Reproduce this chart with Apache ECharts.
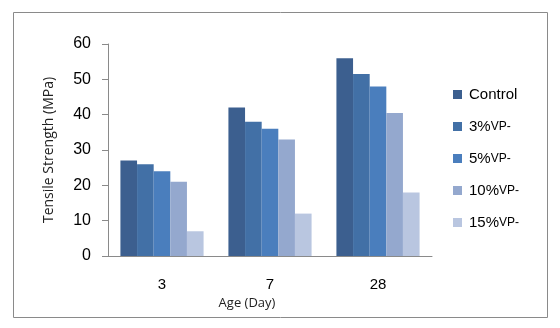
<!DOCTYPE html>
<html>
<head>
<meta charset="utf-8">
<script src="https://cdn.jsdelivr.net/npm/echarts@6/dist/echarts.min.js"></script>
<style>
  html, body { margin: 0; padding: 0; background: #fff; }
  #chart { width: 560px; height: 328px; }
</style>
</head>
<body>
<div id="chart"></div>
<script>
const ages = ["3", "7", "28"];
const seriesNames = ["Control", "3%VP-", "5%VP-", "10%VP-", "15%VP-"];
const control = [27, 42, 56];
const vp3 = [26, 38, 51.5];
const vp5 = [24, 36, 48];
const vp10 = [21, 33, 40.5];
const vp15 = [7, 12, 18];
const colors = ["#3C5F8F", "#4270A6", "#4A7EBD", "#94A8CE", "#B9C6E0"];

const chart = echarts.init(document.getElementById("chart"));
const values = [control, vp3, vp5, vp10, vp15];

chart.setOption({
  animation: false,
  graphic: [
    {
      type: "rect",
      shape: { x: 13.5, y: 12.5, width: 534, height: 305 },
      style: { fill: "none", stroke: "#8a8a8a", lineWidth: 1 },
      silent: true,
    },
  ],
  grid: { left: 108, right: 128, top: 44, bottom: 72 },
  legend: {
    orient: "vertical",
    left: 453,
    top: 87,
    padding: 0,
    itemWidth: 9,
    itemHeight: 9,
    itemGap: 17,
    icon: "rect",
    data: seriesNames,
    formatter: (name) => {
      if (name === "Control") return name;
      const i = name.indexOf("VP");
      return name.slice(0, i) + "{s|" + name.slice(i) + "}";
    },
    textStyle: {
      fontFamily: "Liberation Sans",
      fontSize: 15,
      color: "#000",
      padding: [0, 0, 0, 2],
      rich: { s: { fontFamily: "Liberation Sans", fontSize: 12, color: "#000" } },
    },
  },
  xAxis: {
    type: "category",
    data: ages,
    name: "Age (Day)",
    nameLocation: "middle",
    nameGap: 40,
    nameTextStyle: { fontFamily: "Open Sans", fontSize: 13, color: "#222", padding: [0, 0, 0, -46] },
    axisLine: { lineStyle: { color: "#8a8a8a" } },
    axisTick: { show: false },
    axisLabel: { margin: 21, fontFamily: "Liberation Sans", fontSize: 15, color: "#000" },
  },
  yAxis: {
    type: "value",
    min: 0,
    max: 60,
    interval: 10,
    name: "Tensile Strength (MPa)",
    nameLocation: "middle",
    nameGap: 52,
    nameTextStyle: { fontFamily: "Open Sans", fontSize: 14, color: "#222" },
    axisLine: { show: true, lineStyle: { color: "#8a8a8a" } },
    axisTick: { show: true, length: 6, lineStyle: { color: "#8a8a8a" } },
    splitLine: { show: false },
    axisLabel: { margin: 17, fontFamily: "Liberation Sans", fontSize: 16, color: "#000" },
  },
  series: seriesNames.map((name, i) => ({
    name,
    type: "bar",
    data: values[i],
    barGap: "0%",
    barCategoryGap: "23%",
    itemStyle: { color: colors[i] },
  })),
});
</script>
</body>
</html>
